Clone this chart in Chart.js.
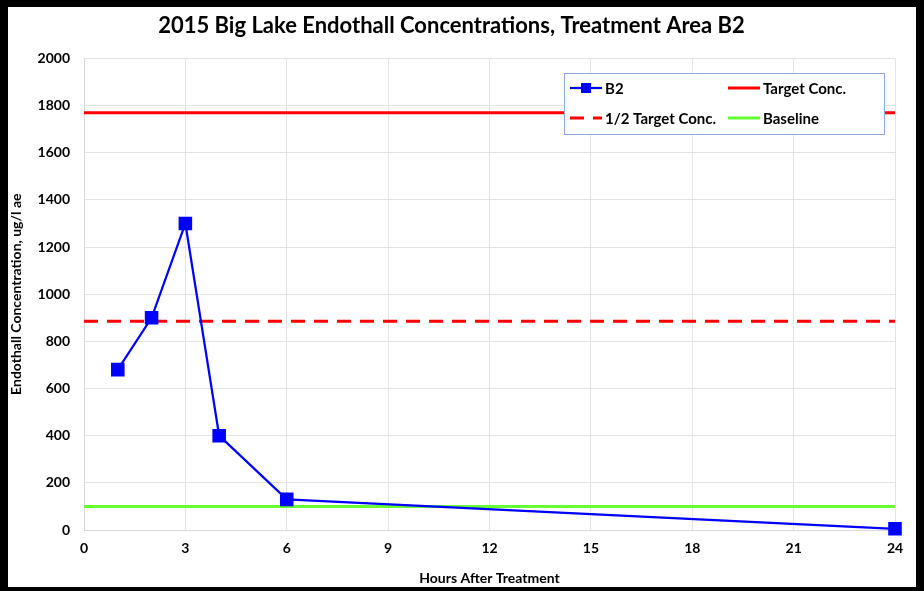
<!DOCTYPE html>
<html>
<head>
<meta charset="utf-8">
<script src="https://cdn.jsdelivr.net/npm/chart.js@4/dist/chart.umd.min.js"></script>
<style>
  html, body { margin: 0; padding: 0; background: #000; }
  #paper { position: absolute; left: 8px; top: 7px; width: 908px; height: 580px; background: #fff; }
  #chart { position: absolute; left: 0; top: 0; }
</style>
</head>
<body>
<div id="paper"></div>
<canvas id="chart" width="924" height="591"></canvas>
<script>
// hours after treatment and measured concentrations (ug/l ae)
var hours = [1, 2, 3, 4, 6, 24];
var b2 = [680, 900, 1300, 400, 130, 5];

// reference levels
var targetConc = 1770;
var halfTarget = 885;
var baseline = 100;
var xRange = [0, 24];

var tickFont = { family: 'Lato', size: 14, weight: 'bold' };

function flat(v) {
    return xRange.map(function (x) { return { x: x, y: v }; });
}

// legend drawn as a boxed 2x2 grid like the original
var boxLegend = {
    id: 'boxLegend',
    afterDraw: function (chart) {
        var ctx = chart.ctx;
        var ds = chart.data.datasets;
        var left = 564, top = 73, w = 320, h = 61;
        ctx.save();
        ctx.fillStyle = '#fff';
        ctx.fillRect(left, top, w, h);
        ctx.strokeStyle = '#8eaadb';
        ctx.lineWidth = 1;
        ctx.strokeRect(left + 0.5, top + 0.5, w, h);
        var slots = [
            { i: 0, x: 570, y: 88 },
            { i: 1, x: 728, y: 88 },
            { i: 2, x: 570, y: 118 },
            { i: 3, x: 728, y: 118 }
        ];
        ctx.font = 'bold 15px Lato';
        ctx.textBaseline = 'middle';
        slots.forEach(function (s) {
            var d = ds[s.i];
            ctx.strokeStyle = d.borderColor;
            ctx.lineWidth = d.borderWidth;
            ctx.setLineDash(d.borderDash || []);
            ctx.beginPath();
            ctx.moveTo(s.x, s.y);
            ctx.lineTo(s.x + 32, s.y);
            ctx.stroke();
            ctx.setLineDash([]);
            if (d.pointRadius) {
                ctx.fillStyle = d.pointBackgroundColor;
                ctx.fillRect(s.x + 11, s.y - 5, 10, 10);
            }
            ctx.fillStyle = '#000';
            ctx.fillText(d.label, s.x + 35, s.y + 1);
        });
        ctx.restore();
    }
};

var ctx = document.getElementById('chart').getContext('2d');
var chart = new Chart(ctx, {
    type: 'line',
    data: {
        datasets: [{
            label: 'B2',
            data: hours.map(function (h, i) { return { x: h, y: b2[i] }; }),
            borderColor: '#0000ff',
            backgroundColor: '#0000ff',
            pointBackgroundColor: '#0000ff',
            pointBorderColor: '#0000ff',
            pointStyle: 'rect',
            pointRadius: 8,
            borderWidth: 2.25,
            clip: false,
            order: 0
        }, {
            label: 'Target Conc.',
            data: flat(targetConc),
            borderColor: '#ff0000',
            borderWidth: 3,
            pointRadius: 0,
            order: 1
        }, {
            label: '1/2 Target Conc.',
            data: flat(halfTarget),
            borderColor: '#ff0000',
            borderWidth: 3,
            borderDash: [14, 9],
            pointRadius: 0,
            order: 1
        }, {
            label: 'Baseline',
            data: flat(baseline),
            borderColor: '#66ff33',
            borderWidth: 3,
            pointRadius: 0,
            order: 1
        }]
    },
    options: {
        responsive: false,
        animation: false,
        layout: { padding: { left: 8, right: 29, top: 0, bottom: 4 } },
        plugins: {
            legend: { display: false },
            tooltip: { enabled: false },
            title: {
                display: true,
                text: '2015 Big Lake Endothall Concentrations, Treatment Area B2',
                color: '#000',
                font: { family: 'Lato', size: 22, weight: 'bold' },
                padding: { top: 13, bottom: 19 }
            }
        },
        scales: {
            x: {
                type: 'linear',
                min: xRange[0],
                max: xRange[1],
                ticks: { stepSize: 3, color: '#000', font: tickFont, padding: 10 },
                grid: { color: '#e3e3e3', drawTicks: false },
                border: { color: '#d9d9d9' },
                title: {
                    display: true,
                    text: 'Hours After Treatment',
                    color: '#000',
                    font: { family: 'Lato', size: 14, weight: 'bold' },
                    padding: { top: 4, bottom: 0 }
                },
                afterFit: function (s) { s.height = 57; }
            },
            y: {
                min: 0,
                max: 2000,
                ticks: {
                    stepSize: 200, color: '#000', font: tickFont, padding: 14,
                    callback: function (v) { return String(v); }
                },
                grid: { color: '#e3e3e3', drawTicks: false },
                border: { color: '#d9d9d9' },
                title: {
                    display: true,
                    text: 'Endothall Concentration, ug/l ae',
                    color: '#000',
                    font: { family: 'Lato', size: 14, weight: 'bold' },
                    padding: { top: 0, bottom: 4 }
                },
                afterFit: function (s) { s.width = 76; }
            }
        }
    },
    plugins: [boxLegend]
});
</script>
</body>
</html>
